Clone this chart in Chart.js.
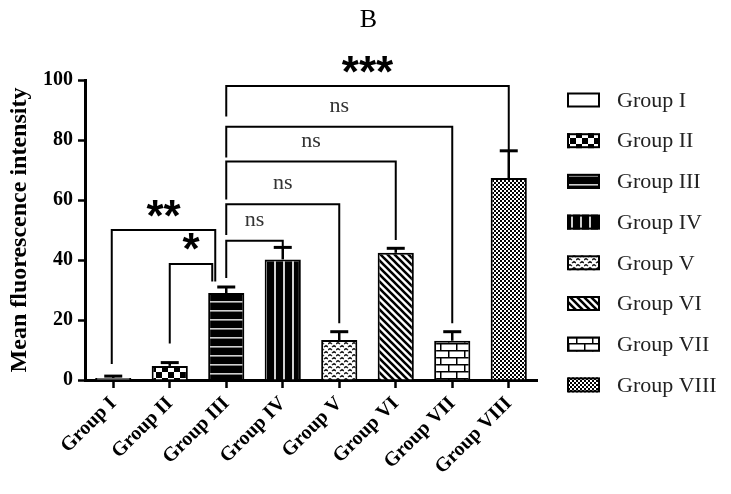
<!DOCTYPE html>
<html>
<head>
<meta charset="utf-8">
<script src="https://cdn.jsdelivr.net/npm/chart.js@4.4.1/dist/chart.umd.min.js"></script>
<style>
  html, body { margin: 0; padding: 0; background: #fff; }
  #wrap { width: 731px; height: 494px; }
</style>
</head>
<body>
<div id="wrap"><canvas id="chart" width="731" height="494"></canvas></div>
<script>
// data
const GROUPS = ['Group I', 'Group II', 'Group III', 'Group IV', 'Group V', 'Group VI', 'Group VII', 'Group VIII'];
const MEANS  = [0.7, 4.7, 29, 40.2, 13.3, 42.4, 13.1, 67.3];
const ERRORS = [0.6, 1.1, 2, 4, 2.8, 1.5, 3, 9.1];
const Y_TICKS = [0, 20, 40, 60, 80, 100];
// significance brackets: group indexes, bracket height and where each leg stops (y units)
const COMPARISONS = [
  { from: 0, to: 2, label: '**',  top: 50,   fromEnd: 5.3,  toEnd: 32.8 },
  { from: 1, to: 2, label: '*',   top: 38.7, fromEnd: 12.2, toEnd: 32.8 },
  { from: 2, to: 3, label: 'ns',  top: 46.4, fromEnd: 34,   toEnd: 44.3 },
  { from: 2, to: 4, label: 'ns',  top: 58.6, fromEnd: 48.3, toEnd: 18.9 },
  { from: 2, to: 5, label: 'ns',  top: 72.8, fromEnd: 60.2, toEnd: 46.7 },
  { from: 2, to: 6, label: 'ns',  top: 84.4, fromEnd: 74.2, toEnd: 18.9 },
  { from: 2, to: 7, label: '***', top: 98,   fromEnd: 87.8, toEnd: 76.4 },
];
const PANEL = 'B';

const SERIF = '"Liberation Serif", "Times New Roman", serif';

// ---- fill patterns (one per group) ----
function makePattern(w, h, draw){
  const c = document.createElement('canvas');
  c.width = w; c.height = h;
  const g = c.getContext('2d');
  g.fillStyle = '#fff'; g.fillRect(0, 0, w, h);
  draw(g, w, h);
  return g.createPattern(c, 'repeat');
}
const PATTERNS = [
  makePattern(8, 8, () => {}),
  makePattern(12, 12, g => { g.fillStyle = '#000'; g.fillRect(0, 0, 6, 6); g.fillRect(6, 6, 6, 6); }),
  makePattern(9, 9, g => { g.fillStyle = '#000'; g.fillRect(0, 0, 9, 9); g.fillStyle = '#d0d0d0'; g.fillRect(0, 4, 9, 1.6); }),
  makePattern(9, 9, g => { g.fillStyle = '#000'; g.fillRect(0, 0, 9, 9); g.fillStyle = '#d0d0d0'; g.fillRect(4, 0, 2, 9); }),
  makePattern(8, 6, g => {
    g.strokeStyle = '#222'; g.lineWidth = 1.5;
    g.beginPath();
    g.moveTo(0, 2); g.lineTo(2, 0.6); g.lineTo(4, 2);
    g.moveTo(4, 5); g.lineTo(6, 3.6); g.lineTo(8, 5);
    g.stroke();
  }),
  makePattern(7, 7, g => {
    g.strokeStyle = '#000'; g.lineWidth = 2.6;
    g.beginPath();
    for(let x = -7; x <= 7; x += 7){ g.moveTo(x - 1, -1); g.lineTo(x + 8, 8); }
    g.stroke();
  }),
  makePattern(16, 14, g => {
    g.fillStyle = '#000';
    g.fillRect(0, 0, 16, 1.5); g.fillRect(0, 7, 16, 1.5);
    g.fillRect(0, 0, 1.5, 7); g.fillRect(8, 7, 1.5, 7);
  }),
  makePattern(4, 4, g => { g.fillStyle = '#000'; g.fillRect(0, 0, 2, 2); g.fillRect(2, 2, 2, 2); }),
];

// text centred on its glyph box
function centredText(ctx, text, x, cy){
  ctx.textAlign = 'center';
  ctx.textBaseline = 'alphabetic';
  const m = ctx.measureText(text);
  ctx.fillText(text, x, cy + (m.actualBoundingBoxAscent - m.actualBoundingBoxDescent) / 2);
}

const errorBars = {
  id: 'errorBars',
  afterDatasetsDraw(chart){
    const { ctx, scales: { x, y } } = chart;
    ctx.save();
    ctx.strokeStyle = '#000';
    MEANS.forEach((m, i) => {
      const px = x.getPixelForValue(i);
      const y0 = y.getPixelForValue(m);
      const y1 = y.getPixelForValue(m + ERRORS[i]);
      ctx.lineWidth = 2.5;
      ctx.beginPath(); ctx.moveTo(px, y0); ctx.lineTo(px, y1); ctx.stroke();
      ctx.lineWidth = 3;
      ctx.beginPath(); ctx.moveTo(px - 9, y1); ctx.lineTo(px + 9, y1); ctx.stroke();
    });
    ctx.restore();
  }
};

const brackets = {
  id: 'brackets',
  afterDraw(chart){
    const { ctx, scales: { x, y } } = chart;
    const nudge = { '**': [-1.5, -11], '*': [0, -14] }; // legs that land beside the bar centre
    ctx.save();
    ctx.strokeStyle = '#000';
    ctx.lineWidth = 2;
    COMPARISONS.forEach(c => {
      const n = nudge[c.label] || [0, 0];
      const x1 = x.getPixelForValue(c.from) + n[0];
      const x2 = x.getPixelForValue(c.to) + n[1];
      const yt = y.getPixelForValue(c.top);
      ctx.beginPath();
      ctx.moveTo(x1, y.getPixelForValue(c.fromEnd));
      ctx.lineTo(x1, yt); ctx.lineTo(x2, yt);
      ctx.lineTo(x2, y.getPixelForValue(c.toEnd));
      ctx.stroke();
      if(c.label === 'ns'){
        ctx.font = '22px ' + SERIF; ctx.fillStyle = '#333';
        centredText(ctx, c.label, (x1 + x2) / 2, yt - 20);
      } else {
        ctx.font = 'bold 44px "Liberation Sans", Arial, sans-serif'; ctx.fillStyle = '#000';
        centredText(ctx, c.label, (x1 + x2) / 2, yt - 22);
      }
    });
    ctx.restore();
  }
};

const patternLegend = {
  id: 'patternLegend',
  afterDraw(chart){
    const { ctx, chartArea, width } = chart;
    const lx = chartArea.right + 30;
    ctx.save();
    // panel letter, centred on the whole figure
    ctx.font = '26px ' + SERIF;
    ctx.fillStyle = '#000';
    centredText(ctx, PANEL, width / 2 + 3, 18);

    ctx.font = '22px ' + SERIF;
    ctx.textAlign = 'left';
    ctx.textBaseline = 'middle';
    GROUPS.forEach((g, i) => {
      const cy = chartArea.top + 20 + i * 40.7;
      ctx.fillStyle = PATTERNS[i];
      ctx.fillRect(lx, cy - 7.5, 33, 15);
      ctx.strokeStyle = '#000'; ctx.lineWidth = 2;
      ctx.strokeRect(lx + 1, cy - 6.5, 31, 13);
      ctx.fillStyle = '#222';
      ctx.fillText(g, lx + 50, cy + 1);
    });
    ctx.restore();
  }
};

const ctx = document.getElementById('chart').getContext('2d');
new Chart(ctx, {
  type: 'bar',
  data: {
    labels: GROUPS,
    datasets: [{
      data: MEANS,
      backgroundColor: PATTERNS,
      borderColor: '#000',
      borderWidth: 2,
      barPercentage: 0.64,
      categoryPercentage: 1
    }]
  },
  options: {
    responsive: false,
    animation: false,
    devicePixelRatio: 1,
    layout: { padding: { left: 0, right: 194, top: 80, bottom: 0 } },
    plugins: {
      legend: { display: false },
      tooltip: { enabled: false },
      title: { display: false }
    },
    scales: {
      x: {
        grid: { display: true, drawOnChartArea: false, offset: false, tickLength: 8, tickWidth: 2.5, tickColor: '#000' },
        border: { display: true, width: 3, color: '#000' },
        ticks: { autoSkip: false, minRotation: 45, maxRotation: 45, padding: 4, color: '#000',
                 font: { family: SERIF, size: 20, weight: 'bold' } },
        afterFit(s){ s.height = 114; }
      },
      y: {
        min: Y_TICKS[0], max: Y_TICKS[Y_TICKS.length - 1],
        ticks: { stepSize: Y_TICKS[1] - Y_TICKS[0], padding: 5, color: '#000',
                 font: { family: SERIF, size: 20, weight: 'bold' } },
        grid: { display: true, drawOnChartArea: false, tickLength: 7, tickWidth: 2.5, tickColor: '#000' },
        border: { display: true, width: 3, color: '#000' },
        title: { display: true, text: 'Mean fluorescence intensity', color: '#000',
                 font: { family: SERIF, size: 24, weight: 'bold' }, padding: { top: 5, bottom: 0 } },
        afterFit(s){ s.width = 85; }
      }
    }
  },
  plugins: [errorBars, brackets, patternLegend]
});
</script>
</body>
</html>
